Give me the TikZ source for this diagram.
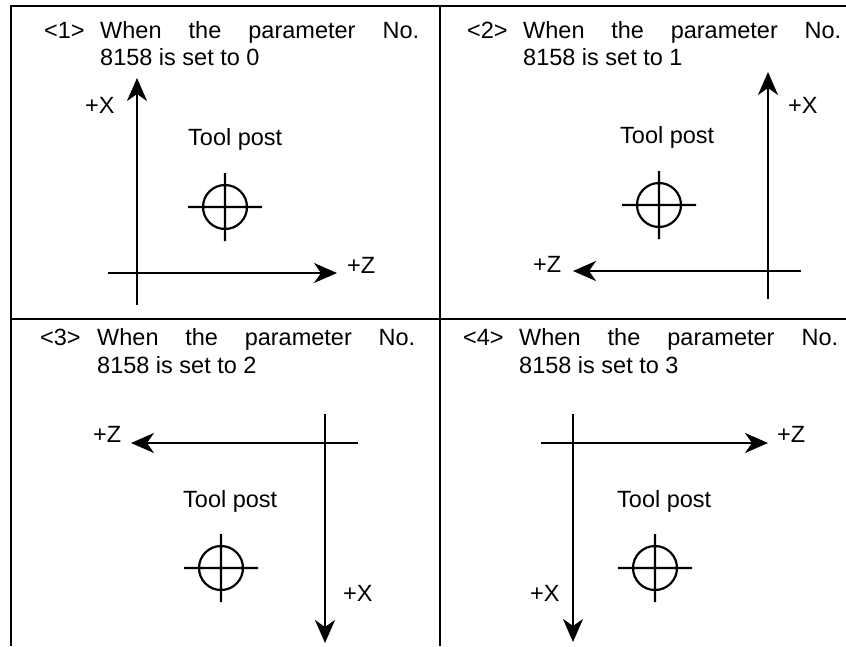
\documentclass[tikz,border=0pt]{standalone}
\usepackage{fontspec}
\setmainfont{Liberation Sans}
\usetikzlibrary{positioning,arrows.meta}

\begin{document}
\begin{tikzpicture}[x=1pt,y=-1pt,
                    font=\fontsize{23.5}{27}\selectfont,
                    frame/.style={line width=2.2pt},
                    axis/.style={-{Stealth[length=23pt,width=20pt,inset=7pt]},line width=2.2pt},
                    lbl/.style={anchor=base west,inner sep=0pt},
                    toolpost/.pic={\draw[line width=2.2pt] (0,0) circle[radius=22]
                                   (-37,0) -- (37,0) (0,-34) -- (0,34);}]
  \useasboundingbox (0,0) rectangle (846,646);

  % frame
  \draw[frame] (11,646) -- (11,6) -- (846,6);
  \draw[frame] (440,6) -- (440,646);
  \draw[frame] (11,319) -- (846,319);

  % <1>
  \node[lbl] (num1)  at (44,38)  {<1>};
  \node[lbl] (head1) at (100,38) {\makebox[319pt][s]{When the parameter No.}};
  \node[lbl] (tail1) at (100,65) {8158 is set to 0};
  \coordinate (x1s) at (137,305);
  \coordinate (x1e) at (137,78);
  \coordinate (z1s) at (108,273);
  \coordinate (z1e) at (337,273);
  \draw[axis] (x1s) -- (x1e);
  \draw[axis] (z1s) -- (z1e);
  \node[lbl] (xl1) at (85,113)  {+X};
  \node[lbl] (zl1) at (347,273) {+Z};
  \node[lbl] (tp1) at (188,145) {Tool post};
  \pic at (225,207) {toolpost};

  % <2>
  \node[lbl] (num2)  at (467,38) {<2>};
  \node[lbl] (head2) at (523,38) {\makebox[318pt][s]{When the parameter No.}};
  \node[lbl] (tail2) at (523,65) {8158 is set to 1};
  \coordinate (x2s) at (768,299);
  \coordinate (x2e) at (768,72);
  \coordinate (z2s) at (801,271);
  \coordinate (z2e) at (573,271);
  \draw[axis] (x2s) -- (x2e);
  \draw[axis] (z2s) -- (z2e);
  \node[lbl] (xl2) at (788,113) {+X};
  \node[lbl] (zl2) at (533,272) {+Z};
  \node[lbl] (tp2) at (620,143) {Tool post};
  \pic at (659,205) {toolpost};

  % <3>
  \node[lbl] (num3)  at (40,345) {<3>};
  \node[lbl] (head3) at (97,345) {\makebox[318pt][s]{When the parameter No.}};
  \node[lbl] (tail3) at (97,373) {8158 is set to 2};
  \coordinate (z3s) at (358,443);
  \coordinate (z3e) at (131,443);
  \coordinate (x3s) at (325,414);
  \coordinate (x3e) at (325,643);
  \draw[axis] (z3s) -- (z3e);
  \draw[axis] (x3s) -- (x3e);
  \node[lbl] (zl3) at (93,442)  {+Z};
  \node[lbl] (xl3) at (343,601) {+X};
  \node[lbl] (tp3) at (183,507) {Tool post};
  \pic at (221,568) {toolpost};

  % <4>
  \node[lbl] (num4)  at (463,345) {<4>};
  \node[lbl] (head4) at (519,345) {\makebox[319pt][s]{When the parameter No.}};
  \node[lbl] (tail4) at (519,373) {8158 is set to 3};
  \coordinate (z4s) at (541,443);
  \coordinate (z4e) at (768,443);
  \coordinate (x4s) at (573,414);
  \coordinate (x4e) at (573,642);
  \draw[axis] (z4s) -- (z4e);
  \draw[axis] (x4s) -- (x4e);
  \node[lbl] (zl4) at (777,442) {+Z};
  \node[lbl] (xl4) at (530,601) {+X};
  \node[lbl] (tp4) at (617,507) {Tool post};
  \pic at (655,568) {toolpost};
\end{tikzpicture}
\end{document}
